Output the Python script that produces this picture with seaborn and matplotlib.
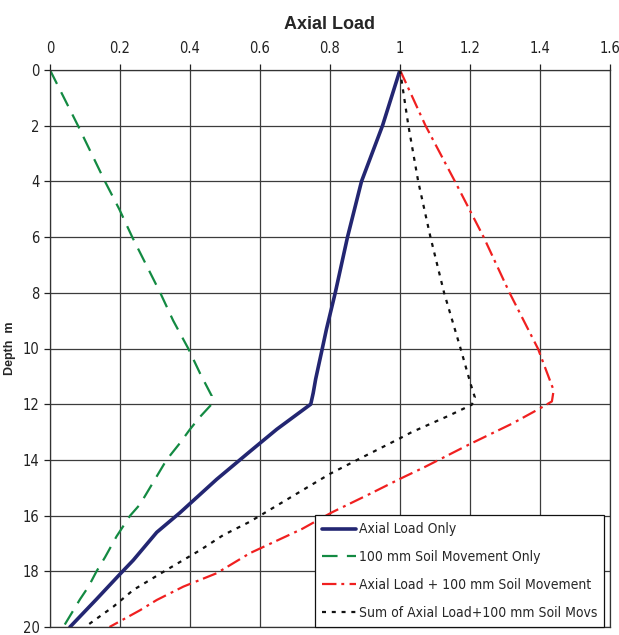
import matplotlib
matplotlib.use("Agg")
import matplotlib.pyplot as plt
import seaborn as sns

# Axial load ratio versus pile depth (m) for each load case
depth_axial = [0, 2, 4, 6, 8, 9.3, 10, 11.1, 11.6, 12.0, 12.9, 13.7, 14.7, 15.9,
               16.6, 17.6, 18.1, 19.0, 20]
load_axial = [1.0, 0.95, 0.89, 0.85, 0.815, 0.79, 0.778, 0.759, 0.752, 0.745,
              0.648, 0.571, 0.476, 0.371, 0.305, 0.238, 0.2, 0.133, 0.057]

depth_soil = [0, 2, 4, 5, 6, 8, 9, 10, 10.9, 11.7, 12.0, 12.45, 12.9, 13.4, 14.0,
              14.8, 15.6, 16.0, 16.75, 17.5, 18.0, 18.55, 19.0, 19.5, 20]
load_soil = [0.0, 0.08, 0.157, 0.198, 0.235, 0.315, 0.352, 0.395, 0.429, 0.462,
             0.462, 0.429, 0.4, 0.371, 0.333, 0.295, 0.257, 0.229, 0.19, 0.157,
             0.133, 0.11, 0.086, 0.062, 0.038]

depth_combined = [0, 2, 4, 6, 8, 10, 11.5, 11.9, 12.15, 12.7, 13.43, 14.26, 14.68,
                  15.22, 15.88, 16.48, 17.35, 18.07, 18.55, 19.03, 19.4, 20]
load_combined = [1.0, 1.073, 1.157, 1.239, 1.313, 1.394, 1.439, 1.434, 1.4, 1.32,
                 1.2, 1.07, 1.0, 0.914, 0.806, 0.72, 0.571, 0.476, 0.381, 0.305,
                 0.257, 0.17]

depth_sum = [0, 2, 4, 6, 8, 10, 11.28, 11.76, 12.02, 12.41, 13.0, 13.25, 14.03,
             14.5, 15.1, 16.22, 16.7, 17.24, 17.95, 18.67, 19.27, 20]
load_sum = [1.0, 1.024, 1.052, 1.087, 1.126, 1.173, 1.202, 1.214, 1.205, 1.14,
            1.034, 0.996, 0.873, 0.8, 0.72, 0.571, 0.495, 0.429, 0.333, 0.238,
            0.181, 0.1]

series_labels = ["Axial Load Only", "100 mm Soil Movement Only",
                 "Axial Load + 100 mm Soil Movement",
                 "Sum of Axial Load+100 mm Soil Movs"]
x_ticks = [0, 0.2, 0.4, 0.6, 0.8, 1.0, 1.2, 1.4, 1.6]
x_tick_labels = ["0", "0.2", "0.4", "0.6", "0.8", "1", "1.2", "1.4", "1.6"]
y_ticks = [0, 2, 4, 6, 8, 10, 12, 14, 16, 18, 20]

sns.set_theme(style="white")
plt.rcParams["font.family"] = ["DejaVu Sans"]
plt.rcParams["font.stretch"] = "condensed"

fig = plt.figure(figsize=(6.19, 6.35), dpi=100)
ax = fig.add_axes([50 / 619, 8 / 635, 560 / 619, 557 / 635])

styles = [
    (depth_axial, load_axial, "#232672", 2.6, "-"),
    (depth_soil, load_soil, "#138a42", 1.6, (0, (7, 4.2))),
    (depth_combined, load_combined, "#f02020", 1.6, (0, (6.5, 2.2, 1.3, 2.4))),
    (depth_sum, load_sum, "#111111", 1.6, (0, (1.8, 2.6))),
]
for (d, v, c, lw, ls), lab in zip(styles, series_labels):
    sns.lineplot(x=v, y=d, sort=False, estimator=None, color=c, linewidth=lw,
                 linestyle=ls, label=lab, ax=ax)

ax.set_xlim(0, 1.6)
ax.set_ylim(20, 0)
ax.xaxis.tick_top()
ax.set_xticks(x_ticks)
ax.set_xticklabels(x_tick_labels)
ax.set_yticks(y_ticks)
ax.tick_params(axis="both", labelsize=10.5, colors="#222222", length=4,
               width=0.9, direction="out")
ax.tick_params(axis="x", top=True, bottom=False, pad=6)
ax.tick_params(axis="y", left=True, pad=3.5)
ax.grid(True, color="#3c3c3c", linewidth=0.9)
for side, sp in ax.spines.items():
    sp.set_color("#333333")
    sp.set_linewidth(0.9)
ax.set_xlabel("")
ax.set_ylabel("Depth  m", fontsize=9, fontweight="bold",
              family=["Liberation Sans", "DejaVu Sans"], fontstretch="normal")
ax.yaxis.set_label_coords(-0.061, 0.5)
ax.set_title("Axial Load", fontsize=13, fontweight="bold",
             family=["Liberation Sans", "DejaVu Sans"], fontstretch="normal", pad=9)

leg = ax.legend(loc="lower right", bbox_to_anchor=(0.989, 0.0), fontsize=10,
                frameon=True, fancybox=False, framealpha=1, edgecolor="#111111",
                handlelength=2.4, handletextpad=0.2, labelspacing=1.0,
                borderpad=0.5, borderaxespad=0)
leg.get_frame().set_linewidth(0.9)

fig.savefig("out.png", dpi=100)
